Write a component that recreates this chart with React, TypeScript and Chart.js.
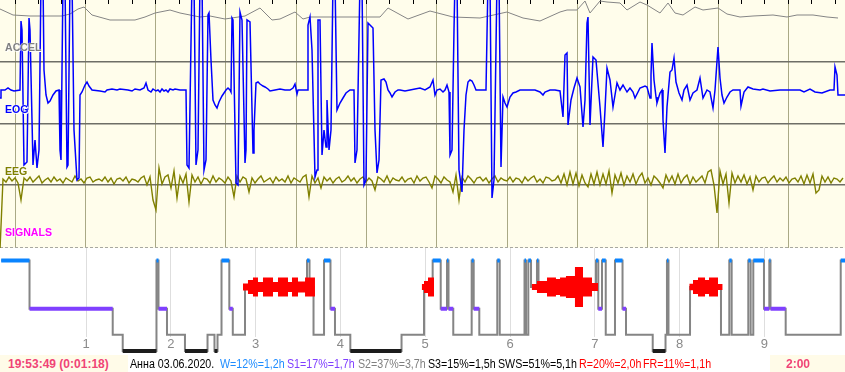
import React, { useEffect, useRef } from 'react';
import { Chart, registerables } from 'chart.js';

Chart.register(...registerables);

// ---------- signal window (2:00 min) ----------
const FS = 7.03; // stored samples per second
const T_START = -2.134; // time (s) of sample 0
const WINDOW_SAMPLES = 845;
const GRID_SECONDS = [0, 10, 20, 30, 40, 50, 60, 70, 80, 90, 100, 110];
const MINOR_TICK_SECONDS = 10 / 3;
const ROW_LINES = [61.7, 123.3, 185];
const DASH_LINE = [247];

// [sample, value]
const ACCEL: [number, number][] = [
  [0, 16], [13, 10], [30, 9], [62, 9], [70, 11], [78, 16], [84, 18], [92, 10], [110, 5], [135, 5],
  [145, 8], [155, 12], [170, 15], [180, 12], [200, 8], [210, 9], [225, 6], [245, 9], [260, 17], [272, 5],
  [280, 6], [295, 13], [303, 6], [310, 8], [380, 8], [388, 17], [408, 6], [430, 14], [453, 8], [480, 7],
  [507, 13], [523, 7], [540, 4], [560, 13], [567, 15], [577, 15], [585, 24], [590, 12], [600, 24], [607, 23],
  [620, 22], [627, 15], [640, 23], [647, 20], [660, 12], [668, 22], [675, 12], [683, 10], [695, 18], [703, 15],
  [718, 17], [727, 11], [740, 8], [753, 9], [773, 10], [787, 8], [797, 10], [813, 10], [827, 8], [838, 7],
];

const EOG: [number, number][] = [
  [0, -8], [1, 0], [5, 0], [8, 2], [11, 0], [14, -1], [20, 0], [21, 69], [22, 60], [24, -75], [27, -72],
  [29, 72], [30, 60], [33, -75], [35, -50], [37, -78], [39, -60], [41, 110], [43, 110], [44, 20], [46, -5],
  [48, -13], [50, -11], [53, -5], [56, -1], [59, 0], [60, -60], [61, -70], [63, 110], [65, 110], [67, -77],
  [68, -75], [70, 110], [72, 110], [74, -40], [77, -90], [79, -88], [80, -5], [82, -2], [85, 5], [87, 8],
  [89, 4], [92, 0], [100, -1], [105, -2], [107, 0], [112, 1], [117, 0], [120, 1], [128, 0], [132, -1],
  [135, 1], [140, 0], [144, 2], [146, 7], [148, 0], [151, -2], [153, 1], [156, -1], [158, 0], [160, -2],
  [162, 1], [164, -1], [166, 0], [168, -2], [170, 1], [173, 0], [175, 1], [180, 0], [186, 0],
  [187, -75], [189, -78], [192, 110], [194, 110], [196, -75], [198, -60], [200, 110], [202, 110], [204, -80],
  [206, -70], [208, 75], [209, 77], [211, 30], [213, -10], [215, -15], [217, -18], [219, -12], [222, -6],
  [224, -3], [226, 0], [228, 2], [230, 0], [231, -2], [232, 72], [233, 70], [236, -93], [238, -95], [240, 78],
  [242, 70], [245, -73], [246, -60], [247, 70], [250, 68], [253, -63], [254, -40], [256, 7], [258, 8],
  [260, 6], [263, 4], [265, 3], [268, 1], [270, -1], [275, 0], [280, 1], [285, 0], [290, 0], [293, 2],
  [295, 6], [297, -4], [298, 0], [300, 0], [305, 0], [307, 0],
  [308, 65], [310, 73], [312, 40], [315, -87], [317, -80], [318, 70], [320, 70], [322, -65], [324, -40],
  [326, -57], [327, -10], [329, -60], [331, -40], [333, 110], [335, 110], [337, -20], [340, -13], [343, -8],
  [346, -3], [350, 0], [354, 0], [355, -73], [357, -60], [360, 110], [362, 110], [364, -95], [366, -90],
  [368, 67], [370, 65], [373, 62], [375, -40], [377, -83], [379, -70], [381, 10], [384, 11], [386, 8],
  [388, 0], [390, -3], [392, -7], [395, -2], [398, 0], [400, 0], [405, -1], [410, 0], [415, 1], [420, 2],
  [425, 0], [430, 3], [433, 10], [435, -5], [437, 0], [440, 1], [443, -2], [445, 0], [447, 5], [449, -2],
  [450, -65], [452, -60], [454, 60], [455, 110], [457, 110], [459, -80], [462, -102], [464, -40], [466, -5],
  [468, 8], [470, 10], [472, 9], [474, 5], [476, 0], [480, 0], [486, 0], [488, 110], [490, 110], [492, -108],
  [494, -90], [497, 110], [499, 110], [501, -77], [503, -7], [505, -13], [507, -17], [510, -7], [513, -3],
  [516, -2], [520, 0], [525, 0], [530, 0], [535, 0], [540, -2], [543, -5], [545, -2], [550, 0], [555, 0],
  [560, -1], [563, -27], [565, 35], [567, 37], [568, -35], [571, -10], [574, 2], [577, 12], [580, 3],
  [583, -37], [585, -10], [587, 67], [588, 73], [590, -35], [593, 33], [596, 30], [600, -17], [603, -57],
  [605, -20], [607, 22], [610, 10], [613, -17], [617, 7], [620, 0], [623, 5], [627, -2], [630, 2], [633, -2],
  [635, -8], [640, 2], [645, 4], [647, 3], [650, -8], [651, 15], [652, 47], [654, 10], [656, -7], [657, -13],
  [660, -3], [662, 0], [663, -30], [665, -63], [667, -17], [670, 18], [672, 20], [674, 32], [676, 8],
  [679, -3], [682, -10], [684, 0], [687, 5], [690, -10], [693, -3], [697, 0], [700, 12], [703, -8], [707, 0],
  [710, -2], [713, -18], [715, 0], [718, 43], [720, 12], [722, -5], [724, -13], [727, -7], [730, -2],
  [733, 0], [740, 0], [741, -16], [744, -2], [748, 3], [753, 1], [760, 0], [763, 1], [770, -1], [780, 0],
  [790, 0], [800, 0], [804, -2], [810, 1], [815, -2], [822, -3], [830, 0], [834, 0], [835, 23], [837, 15],
  [838, -5], [845, -5],
];

const EEG_STEP = 3;
const EEG: number[] = [
  -70, 1, -2, 3, -1, 2, -3, -20, 2, -1, 3, -2, 1, 4, -3, 0, 2, -2, 3, -1,
  1, -3, 2, 0, -2, 4, -1, 1, -3, 2, 3, -2, 0, 1, -1, 3, -2, 2, -4, 1,
  2, -1, 3, -3, 1, 0, -2, 2, 4, -5, 3, -20, -30, 12, -4, 3, 5, -8, 9, -18,
  4, -3, 6, -22, 5, -2, 3, -4, 2, 1, -3, 4, -2, 2, 0, -3, 3, -1, -17, 4,
  -2, 3, 1, -12, 2, -3, 1, 4, -2, 0, 2, -3, 3, -1, 1, -2, 4, -3, 2, 0,
  -2, 3, 5, -17, 4, -3, 2, -8, 3, -1, 2, -3, 1, 3, -2, 0, 4, -1, 2, -3,
  1, 3, -2, 2, -1, -10, 3, 1, -2, 4, -3, 2, 0, -1, 3, -2, 1, 2, -3, 4,
  -1, 2, 3, -2, -8, 4, 1, -3, 3, 0, -2, -12, 5, -20, 3, -2, 4, 1, -3, 2,
  3, -1, 2, -3, 1, 4, -2, 2, 0, -1, 3, -2, 2, 1, -3, 3, -1, 2, 4, -2,
  1, -3, 3, 2, -1, 0, 4, -3, 6, -5, 8, -4, 7, -6, 5, -3, -7, 6, -4, 8,
  -5, 6, -4, 9, -13, 5, -3, 7, -5, 4, -2, 6, -4, 3, 7, -3, 2, -5, 4, 1,
  -3, -8, 5, -2, 4, -4, 6, -3, 2, 5, -4, 3, -2, 1, 4, -3, 8, 10, -5, -33,
  9, -4, 6, -23, 7, -3, 4, -2, 5, -4, 3, -10, 4, -2, 2, 3, -3, 1, 4, -2,
  2, -1, 3, -3, 1, 2, -2, 4, -4, 5, -3, 6, -13, -10, 4, -2, 3, -3, 2, 1, -2, 2,
];

// ---------- hypnogram ----------
const HOUR_MIN = -0.0142;
const HOUR_MAX = 9.9505;
const HOUR_TICKS = [1, 2, 3, 4, 5, 6, 7, 8, 9];
const STAGE_STARTS = [
  0, 0.334, 1.315, 1.433, 1.831, 1.855, 1.955, 2.167, 2.433, 2.515, 2.551, 2.598, 2.69, 2.731, 2.875,
  3.606, 3.636, 3.683, 3.807, 3.883, 3.936, 4.117, 4.721, 4.986, 5.088, 5.183, 5.257, 5.275, 5.331,
  5.548, 5.572, 5.638, 5.85, 5.879, 6.171, 6.189, 6.216, 6.248, 6.318, 6.336, 7.014, 7.041, 7.085,
  7.129, 7.238, 7.327, 7.368, 7.683, 7.834, 7.851, 7.869, 8.123, 8.488, 8.586, 8.614, 8.81, 8.838,
  8.869, 8.995, 9.058, 9.072, 9.251, 9.9,
];
const STAGES = [
  'W', 'S1', 'S2', 'S3', 'W', 'S1', 'S2', 'S3', 'S2', 'S3', 'S2', 'W', 'S1', 'S2', 'R',
  'W', 'R', 'S2', 'W', 'S1', 'S2', 'S3', 'S2', 'R', 'W', 'S1', 'W', 'S1', 'S2',
  'W', 'S1', 'S2', 'W', 'S2', 'W', 'S2', 'W', 'R', 'W', 'R', 'W', 'S1', 'W',
  'S2', 'W', 'S1', 'S2', 'S3', 'S2', 'W', 'S2', 'R', 'S2', 'W', 'S2', 'W', 'S2',
  'W', 'S1', 'W', 'S1', 'S2', 'W',
];
const END_HOUR = 9.962;
// REM bursts: [hour, half-thickness of the REM band]
const REM_BLOCKS: [number, number][][] = [
  [[2.851, 3.5], [2.91, 7], [2.969, 9.5], [3.028, 5], [3.087, 9.5], [3.205, 5], [3.264, 9.5], [3.382, 5], [3.429, 9.5], [3.5, 5.5], [3.583, 9.5], [3.7, 0]],
  [[4.959, 3], [4.986, 6], [5.033, 9.5], [5.104, 0]],
  [[6.256, 3], [6.318, 6], [6.436, 9.5], [6.542, 8], [6.59, 9.5], [6.66, 11], [6.766, 20], [6.861, 9.5], [6.967, 4], [7.038, 0]],
  [[8.114, 3.3], [8.158, 7], [8.217, 9.5], [8.3, 7], [8.347, 9.5], [8.453, 3], [8.508, 0]],
];
const LEVEL: Record<string, number> = { W: 99.5, R: 73, S1: 51.3, S2: 25.3, S3: 9 };
const STAGE_COLOR: Record<string, string> = { W: '#0a84ff', S1: '#8040ff', S3: '#1c1c1c' };

const FONT = '"Liberation Sans", Arial, sans-serif';

function SignalChart() {
  const ref = useRef<HTMLCanvasElement>(null);
  useEffect(() => {
    const toT = (s: number) => T_START + s / FS;
    const tMax = T_START + WINDOW_SAMPLES / FS;
    const noSize = (a: any) => { if (a.isHorizontal()) a.height = 0; else a.width = 0; };
    const chart = new Chart(ref.current as HTMLCanvasElement, {
      type: 'line',
      data: {
        datasets: [
          { label: 'EOG', data: EOG.map(([s, v]) => ({ x: toT(s), y: v })), yAxisID: 'yEog', borderColor: '#0000ff', borderWidth: 1.5, pointRadius: 0 },
          { label: 'EEG', data: EEG.map((v, i) => ({ x: toT(i * EEG_STEP), y: v })), yAxisID: 'yEeg', borderColor: '#808000', borderWidth: 1.4, pointRadius: 0 },
          { label: 'ACCEL', data: ACCEL.map(([s, v]) => ({ x: toT(s), y: v })), yAxisID: 'yAccel', borderColor: '#858585', borderWidth: 1, pointRadius: 0 },
        ],
      },
      options: {
        responsive: false,
        animation: false,
        events: [],
        layout: { padding: 0 },
        plugins: { legend: { display: false }, tooltip: { enabled: false } },
        scales: {
          x: {
            type: 'linear', min: T_START, max: tMax,
            afterBuildTicks: (a: any) => { a.ticks = GRID_SECONDS.map((v) => ({ value: v })); },
            afterFit: noSize,
            grid: { color: '#aaa985', lineWidth: 1, drawTicks: false },
            ticks: { display: false },
            border: { display: false },
          },
          xt: {
            type: 'linear', min: T_START, max: tMax, position: { yEog: 90 } as any,
            afterBuildTicks: (a: any) => { a.ticks = Array.from({ length: 36 }, (_, k) => ({ value: k * MINOR_TICK_SECONDS })); },
            grid: { drawOnChartArea: false, drawTicks: true, tickLength: 4, color: '#000000', lineWidth: 1 },
            ticks: { display: false },
            border: { display: false },
          },
          yEog: { display: false, min: -158, max: 90 },
          yEeg: { display: false, min: -68, max: 180 },
          yAccel: { display: false, min: -223, max: 25 },
          yg: {
            type: 'linear', position: 'left', reverse: true, min: 0, max: 248,
            afterBuildTicks: (a: any) => { a.ticks = ROW_LINES.map((v) => ({ value: v })); },
            afterFit: noSize,
            grid: { color: '#6e6e66', lineWidth: 1.5, drawTicks: false },
            ticks: { display: false },
            border: { display: false },
          },
          yd: {
            type: 'linear', position: 'left', reverse: true, min: 0, max: 248,
            afterBuildTicks: (a: any) => { a.ticks = DASH_LINE.map((v) => ({ value: v })); },
            afterFit: noSize,
            grid: { color: '#a8a8a0', lineWidth: 1, drawTicks: false },
            ticks: { display: false },
            border: { display: false, dash: [3, 2] },
          },
        },
      } as any,
    });
    return () => chart.destroy();
  }, []);
  return <canvas ref={ref} width={845} height={248} style={{ display: 'block', background: '#fffdeb' }} />;
}

function HypnoChart() {
  const ref = useRef<HTMLCanvasElement>(null);
  useEffect(() => {
    const step = STAGES.map((s, i) => ({ x: STAGE_STARTS[i], y: LEVEL[s] }));
    step.push({ x: END_HOUR, y: LEVEL[STAGES[STAGES.length - 1]] });
    const segEnd = (i: number) => (i + 1 < STAGE_STARTS.length ? STAGE_STARTS[i + 1] : END_HOUR);
    const bars = ['W', 'S1', 'S3'].map((st) => {
      const data: any[] = [];
      STAGES.forEach((s, i) => {
        if (s !== st) return;
        data.push({ x: STAGE_STARTS[i], y: LEVEL[s] }, { x: segEnd(i), y: LEVEL[s] }, { x: segEnd(i), y: null });
      });
      return {
        label: st, data, borderColor: STAGE_COLOR[st], borderWidth: 4, borderCapStyle: 'butt',
        pointRadius: 0, spanGaps: false, clip: false, order: 1,
      };
    });
    const rem: any[] = [];
    REM_BLOCKS.forEach((blk) => {
      [1, -1].forEach((sign) => {
        rem.push({
          label: 'R', data: blk.map(([h, d]) => ({ x: h, y: LEVEL.R + sign * d })),
          stepped: 'before', borderColor: 'rgba(0,0,0,0)', borderWidth: 0, backgroundColor: '#ff0000',
          fill: { value: LEVEL.R }, pointRadius: 0, clip: false, order: 2,
        });
      });
    });
    const chart = new Chart(ref.current as HTMLCanvasElement, {
      type: 'line',
      data: {
        datasets: [
          ...bars,
          ...rem,
          { label: 'stage', data: step, stepped: 'before', borderColor: '#858585', borderWidth: 2, pointRadius: 0, clip: false, order: 3 },
        ],
      },
      options: {
        responsive: false,
        animation: false,
        events: [],
        layout: { padding: 0 },
        plugins: { legend: { display: false }, tooltip: { enabled: false }, filler: { propagate: false } },
        scales: {
          x: {
            type: 'linear', min: HOUR_MIN, max: HOUR_MAX,
            afterBuildTicks: (a: any) => { a.ticks = HOUR_TICKS.map((v) => ({ value: v })); },
            afterFit: (a: any) => { a.height = 19; },
            grid: { color: '#dedede', lineWidth: 1, drawTicks: false },
            border: { display: false },
            ticks: { color: '#8a8a8a', font: { family: 'Liberation Sans', size: 13 }, padding: 0, maxRotation: 0, autoSkip: false },
          },
          y: { display: false, min: 23, max: 112 },
        },
      } as any,
    });
    return () => chart.destroy();
  }, []);
  return <canvas ref={ref} width={845} height={108} style={{ display: 'block', background: '#ffffff' }} />;
}

const labelStyle = (top: number, color: string): React.CSSProperties => ({
  position: 'absolute', left: 5, top, font: `bold 11.5px ${FONT}`, lineHeight: '12px', color,
  textShadow: '0 0 1px #fff, 0 0 1px #fff, 1px 1px 0 #fff',
  transform: 'scaleX(0.92)', transformOrigin: 'left center',
});

const textStyle = (left: number, color: string, bold = false): React.CSSProperties => ({
  position: 'absolute', left, top: 356, font: `${bold ? 'bold 12px' : '12px'} ${FONT}`, lineHeight: '16px',
  color, whiteSpace: 'nowrap',
  transform: bold ? 'none' : 'scaleX(0.89)', transformOrigin: 'left center',
});

export default function App() {
  return (
    <div style={{ position: 'relative', width: 845, height: 372, overflow: 'hidden', background: '#ffffff' }}>
      <style>{'body{margin:0}'}</style>
      <div style={{ position: 'absolute', left: 0, top: 0 }}>
        <SignalChart />
        <HypnoChart />
      </div>
      <div style={labelStyle(40.5, '#808080')}>ACCEL</div>
      <div style={labelStyle(102.5, '#0000ff')}>EOG</div>
      <div style={labelStyle(165, '#808000')}>EEG</div>
      <div style={labelStyle(225.5, '#ff00ff')}>SIGNALS</div>
      <div style={{ position: 'absolute', left: 0, top: 355, width: 128, height: 17, background: '#fffbe8' }} />
      <div style={{ position: 'absolute', left: 770, top: 355, width: 75, height: 17, background: '#fffbe8' }} />
      <span style={textStyle(8, '#f04476', true)}>19:53:49 (0:01:18)</span>
      <span style={textStyle(130, '#000000')}>Анна 03.06.2020.</span>
      <span style={textStyle(220, '#1e8cff')}>W=12%=1,2h</span>
      <span style={textStyle(287, '#8040ff')}>S1=17%=1,7h</span>
      <span style={textStyle(357.5, '#808080')}>S2=37%=3,7h</span>
      <span style={textStyle(427.5, '#000000')}>S3=15%=1,5h</span>
      <span style={textStyle(498, '#000000')}>SWS=51%=5,1h</span>
      <span style={textStyle(579, '#ff0000')}>R=20%=2,0h</span>
      <span style={textStyle(643, '#ff0000')}>FR=11%=1,1h</span>
      <span style={textStyle(786, '#f04476', true)}>2:00</span>
    </div>
  );
}
